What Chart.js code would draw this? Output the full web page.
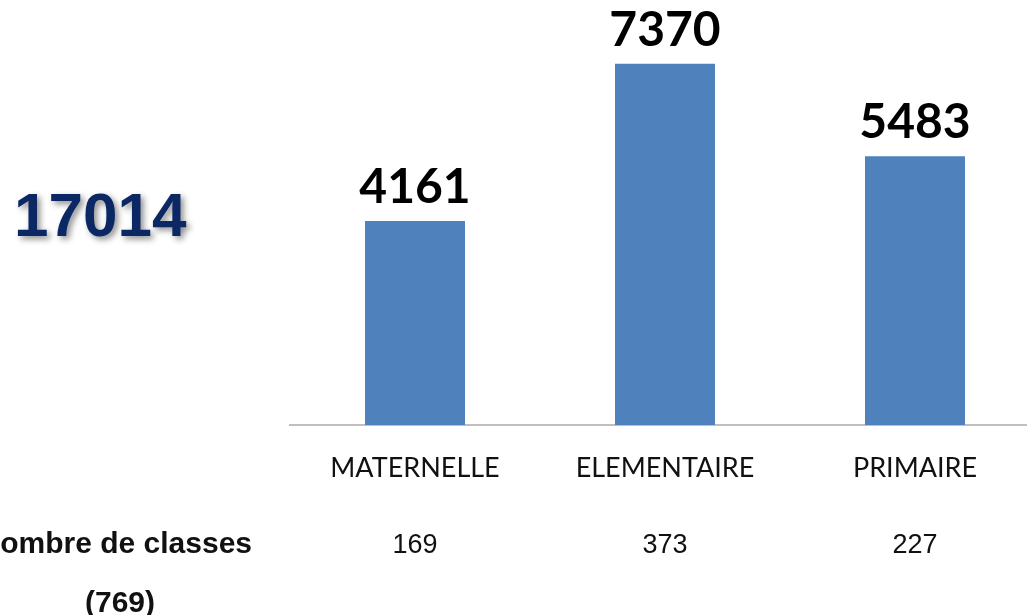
<!DOCTYPE html>
<html>
<head>
<meta charset="utf-8">
<script src="https://cdn.jsdelivr.net/npm/chart.js@4.4.1/dist/chart.umd.min.js"></script>
<style>
  html, body { margin: 0; padding: 0; background: #fff; overflow: hidden; }
  #wrap { position: absolute; left: 0; top: 0; width: 1060px; height: 615px; }
</style>
</head>
<body>
<div id="wrap"><canvas id="chart"></canvas></div>
<script>
const categories = ['MATERNELLE', 'ELEMENTAIRE', 'PRIMAIRE'];
const effectifs = [4161, 7370, 5483];
const nbClasses = [169, 373, 227];
const totalEleves = 17014;
const totalClasses = 769;

// texte ajouté par-dessus le graphique (valeurs, total, ligne "classes")
const extraText = {
  id: 'extraText',
  afterDatasetsDraw(chart) {
    const ctx = chart.ctx;
    const x = chart.scales.x;
    const meta = chart.getDatasetMeta(0);
    ctx.save();
    ctx.textAlign = 'center';
    ctx.textBaseline = 'alphabetic';
    ctx.fillStyle = '#000';
    ctx.font = 'bold 48px Lato';
    meta.data.forEach((bar, i) => {
      ctx.fillText(String(effectifs[i]), bar.x, bar.y - 18);
    });

    ctx.font = '27px "Liberation Sans"';
    ctx.fillStyle = '#111';
    nbClasses.forEach((n, i) => {
      ctx.fillText(String(n), x.getPixelForValue(i), 553);
    });

    ctx.font = 'bold 30px "Liberation Sans"';
    ctx.textAlign = 'right';
    ctx.fillText('Nombre de classes', 252, 553);
    ctx.textAlign = 'center';
    ctx.fillText('(' + totalClasses + ')', 120, 612);

    ctx.textAlign = 'left';
    ctx.font = 'bold 62px "Liberation Sans"';
    ctx.shadowColor = 'rgba(0,0,0,0.45)';
    ctx.shadowBlur = 6;
    ctx.shadowOffsetX = 3;
    ctx.shadowOffsetY = 3;
    ctx.fillStyle = '#0b2865';
    ctx.fillText(String(totalEleves), 14, 236);
    ctx.restore();
  }
};

new Chart(document.getElementById('chart'), {
  type: 'bar',
  data: {
    labels: categories,
    datasets: [{
      data: effectifs,
      backgroundColor: '#4f81bd',
      categoryPercentage: 1,
      barPercentage: 0.4
    }]
  },
  options: {
    responsive: true,
    maintainAspectRatio: false,
    animation: false,
    layout: { padding: { left: 290, right: 20, top: 33, bottom: 0 } },
    plugins: { legend: { display: false }, tooltip: { enabled: false } },
    scales: {
      x: {
        grid: { display: false, drawTicks: false },
        border: { display: true, color: '#bfbfbf', width: 2 },
        ticks: { color: '#111', font: { family: 'Lato', size: 27 }, padding: 27 },
        afterFit(scale) { scale.height = 190; }
      },
      y: { display: false, min: 0, max: 8000 }
    }
  },
  plugins: [extraText]
});
</script>
</body>
</html>
